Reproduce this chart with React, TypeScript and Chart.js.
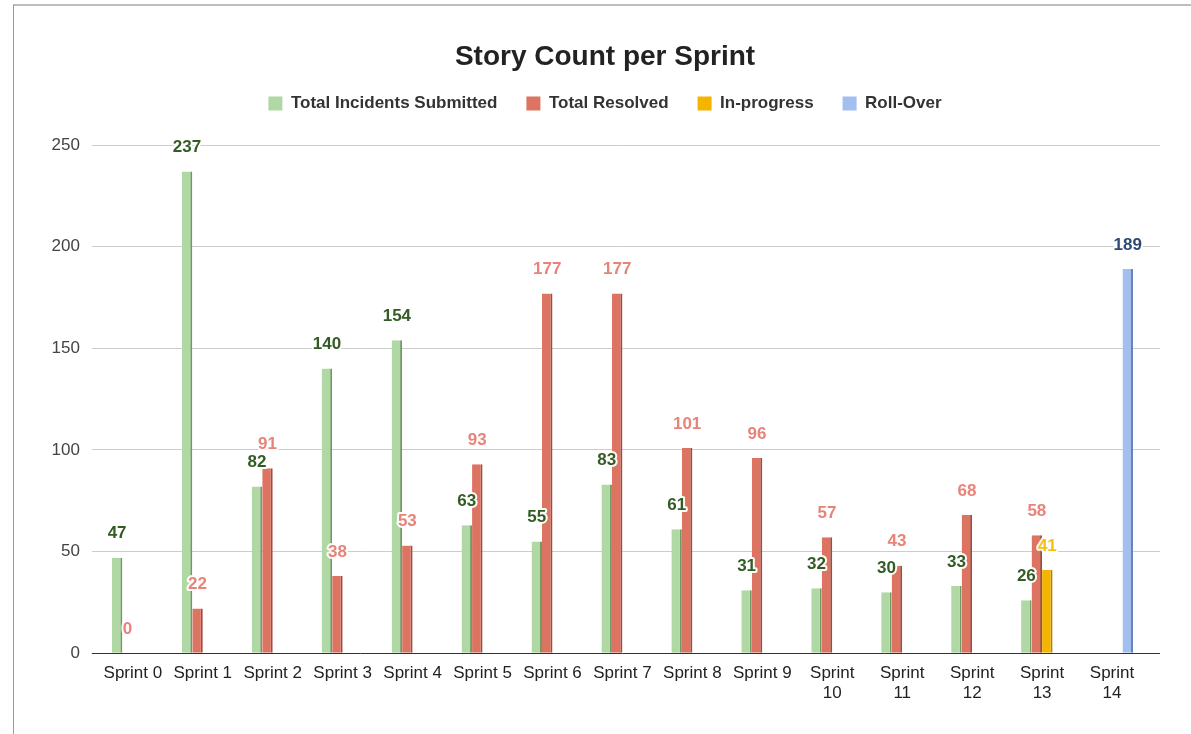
import React, { useEffect, useRef } from "react";
import { Chart, registerables } from "chart.js";

Chart.register(...registerables);

const sprintLabels: (string | string[])[] = [
  "Sprint 0", "Sprint 1", "Sprint 2", "Sprint 3", "Sprint 4", "Sprint 5", "Sprint 6",
  "Sprint 7", "Sprint 8", "Sprint 9", ["Sprint", "10"], ["Sprint", "11"], ["Sprint", "12"],
  ["Sprint", "13"], ["Sprint", "14"],
];
const submitted = [47, 237, 82, 140, 154, 63, 55, 83, 61, 31, 32, 30, 33, 26, null];
const resolved = [0, 22, 91, 38, 53, 93, 177, 177, 101, 96, 57, 43, 68, 58, null];
const inProgress = [null, null, null, null, null, null, null, null, null, null, null, null, null, 41, null];
const rollOver = [null, null, null, null, null, null, null, null, null, null, null, null, null, null, 189];
const yTicks = [0, 50, 100, 150, 200, 250];

const FONT = "'Liberation Sans', Arial, sans-serif";

const labelColors = ["#335c25", "#e8837a", "#f4c20d", "#2d4a73"];

const dataLabelPlugin = {
  id: "dataLabels",
  afterDatasetsDraw(chart: any) {
    const ctx = chart.ctx;
    ctx.save();
    ctx.font = `bold 17px ${FONT}`;
    ctx.textAlign = "center";
    ctx.textBaseline = "middle";
    chart.data.datasets.forEach((ds: any, i: number) => {
      const meta = chart.getDatasetMeta(i);
      meta.data.forEach((el: any, j: number) => {
        const v = ds.data[j];
        if (v === null || v === undefined) return;
        const x = el.x;
        const y = el.y - 24;
        ctx.lineWidth = 4;
        ctx.strokeStyle = "rgba(255,255,255,0.95)";
        ctx.lineJoin = "round";
        ctx.strokeText(String(v), x, y);
        ctx.fillStyle = labelColors[i];
        ctx.fillText(String(v), x, y);
      });
    });
    ctx.restore();
  },
};

const gridExtendPlugin = {
  id: "gridExtend",
  beforeDatasetsDraw(chart: any) {
    const ctx = chart.ctx;
    const y = chart.scales.y;
    const area = chart.chartArea;
    ctx.save();
    yTicks.forEach((t) => {
      const py = Math.round(y.getPixelForValue(t) - 0.5) + 0.5;
      ctx.beginPath();
      ctx.strokeStyle = t === 0 ? "#333333" : "#cccccc";
      ctx.lineWidth = 1;
      ctx.moveTo(area.right, py);
      ctx.lineTo(area.right + 13, py);
      ctx.stroke();
    });
    ctx.restore();
  },
};

export default function App() {
  const ref = useRef<HTMLCanvasElement>(null);
  useEffect(() => {
    if (!ref.current) return;
    const mk = (data: any[], bg: string, side: string) => ({
      data,
      backgroundColor: bg,
      borderColor: side,
      borderWidth: { top: 0, right: 2, bottom: 0, left: 0 },
      borderSkipped: false,
      categoryPercentage: 0.6,
      barPercentage: 1.0,
    });
    const chart = new Chart(ref.current, {
      type: "bar",
      data: {
        labels: sprintLabels,
        datasets: [
          { label: "Total Incidents Submitted", ...mk(submitted, "#b0d8a4", "#6f9a62") },
          { label: "Total Resolved", ...mk(resolved, "#dd7361", "#a24b3d") },
          { label: "In-progress", ...mk(inProgress, "#f4b400", "#b58400") },
          { label: "Roll-Over", ...mk(rollOver, "#a2bff0", "#6584b8") },
        ] as any,
      },
      options: {
        animation: false,
        responsive: false,
        maintainAspectRatio: false,
        layout: { padding: { left: 39.5, right: 20.5, top: 30, bottom: 28 } },
        plugins: {
          title: {
            display: true,
            text: "Story Count per Sprint",
            color: "#222222",
            font: { family: FONT, size: 28, weight: "bold", lineHeight: 1 },
            padding: { top: 13, bottom: -5 },
            weight: 2000,
          },
          subtitle: {
            display: true,
            text: "",
            font: { family: FONT, size: 1, lineHeight: 1 },
            padding: { top: 0, bottom: 22 },
            weight: 500,
          },
          legend: {
            display: true,
            position: "top",
            weight: 1000,
            labels: {
              boxWidth: 14,
              boxHeight: 14,
              padding: 29,
              color: "#333333",
              font: { family: FONT, size: 17, weight: "bold" },
              generateLabels: (c: any) =>
                c.data.datasets.map((d: any, i: number) => ({
                  text: d.label,
                  fillStyle: d.backgroundColor,
                  strokeStyle: d.backgroundColor,
                  lineWidth: 0,
                  datasetIndex: i,
                  fontColor: "#333333",
                })),
            },
          },
          tooltip: { enabled: false },
        },
        scales: {
          x: {
            grid: { display: false },
            border: { display: false },
            ticks: {
              color: "#222222",
              font: { family: FONT, size: 17 },
              padding: 2,
              maxRotation: 0,
              autoSkip: false,
            },
          },
          y: {
            min: 0,
            max: 250,
            afterBuildTicks: (s: any) => {
              s.ticks = yTicks.map((v) => ({ value: v }));
            },
            border: { display: false },
            grid: {
              color: (c: any) => (c.tick && c.tick.value === 0 ? "#333333" : "#cccccc"),
              tickLength: 6,
              drawTicks: true,
            },
            ticks: {
              color: "#444444",
              font: { family: FONT, size: 17 },
              padding: 12,
            },
          },
          ySpacer: {
            type: "linear",
            position: "right",
            display: true,
            grid: { display: false, drawTicks: false },
            border: { display: false },
            ticks: { display: false },
            afterFit: (s: any) => {
              s.width = 23.5;
            },
          },
        },
      },
      plugins: [dataLabelPlugin, gridExtendPlugin],
    });
    return () => chart.destroy();
  }, []);

  return (
    <div
      style={{
        position: "fixed",
        left: 0,
        top: 0,
        width: 1191,
        height: 734,
        background: "#ffffff",
        overflow: "hidden",
      }}
    >
      <div
        style={{
          position: "absolute",
          left: 13,
          top: 4,
          width: 1200,
          height: 800,
          borderLeft: "1px solid #9a9a9a",
          borderTop: "2px solid #bdbdbd",
        }}
      />
      <canvas ref={ref} width={1191} height={734} style={{ position: "absolute", left: 0, top: 0 }} />
    </div>
  );
}
